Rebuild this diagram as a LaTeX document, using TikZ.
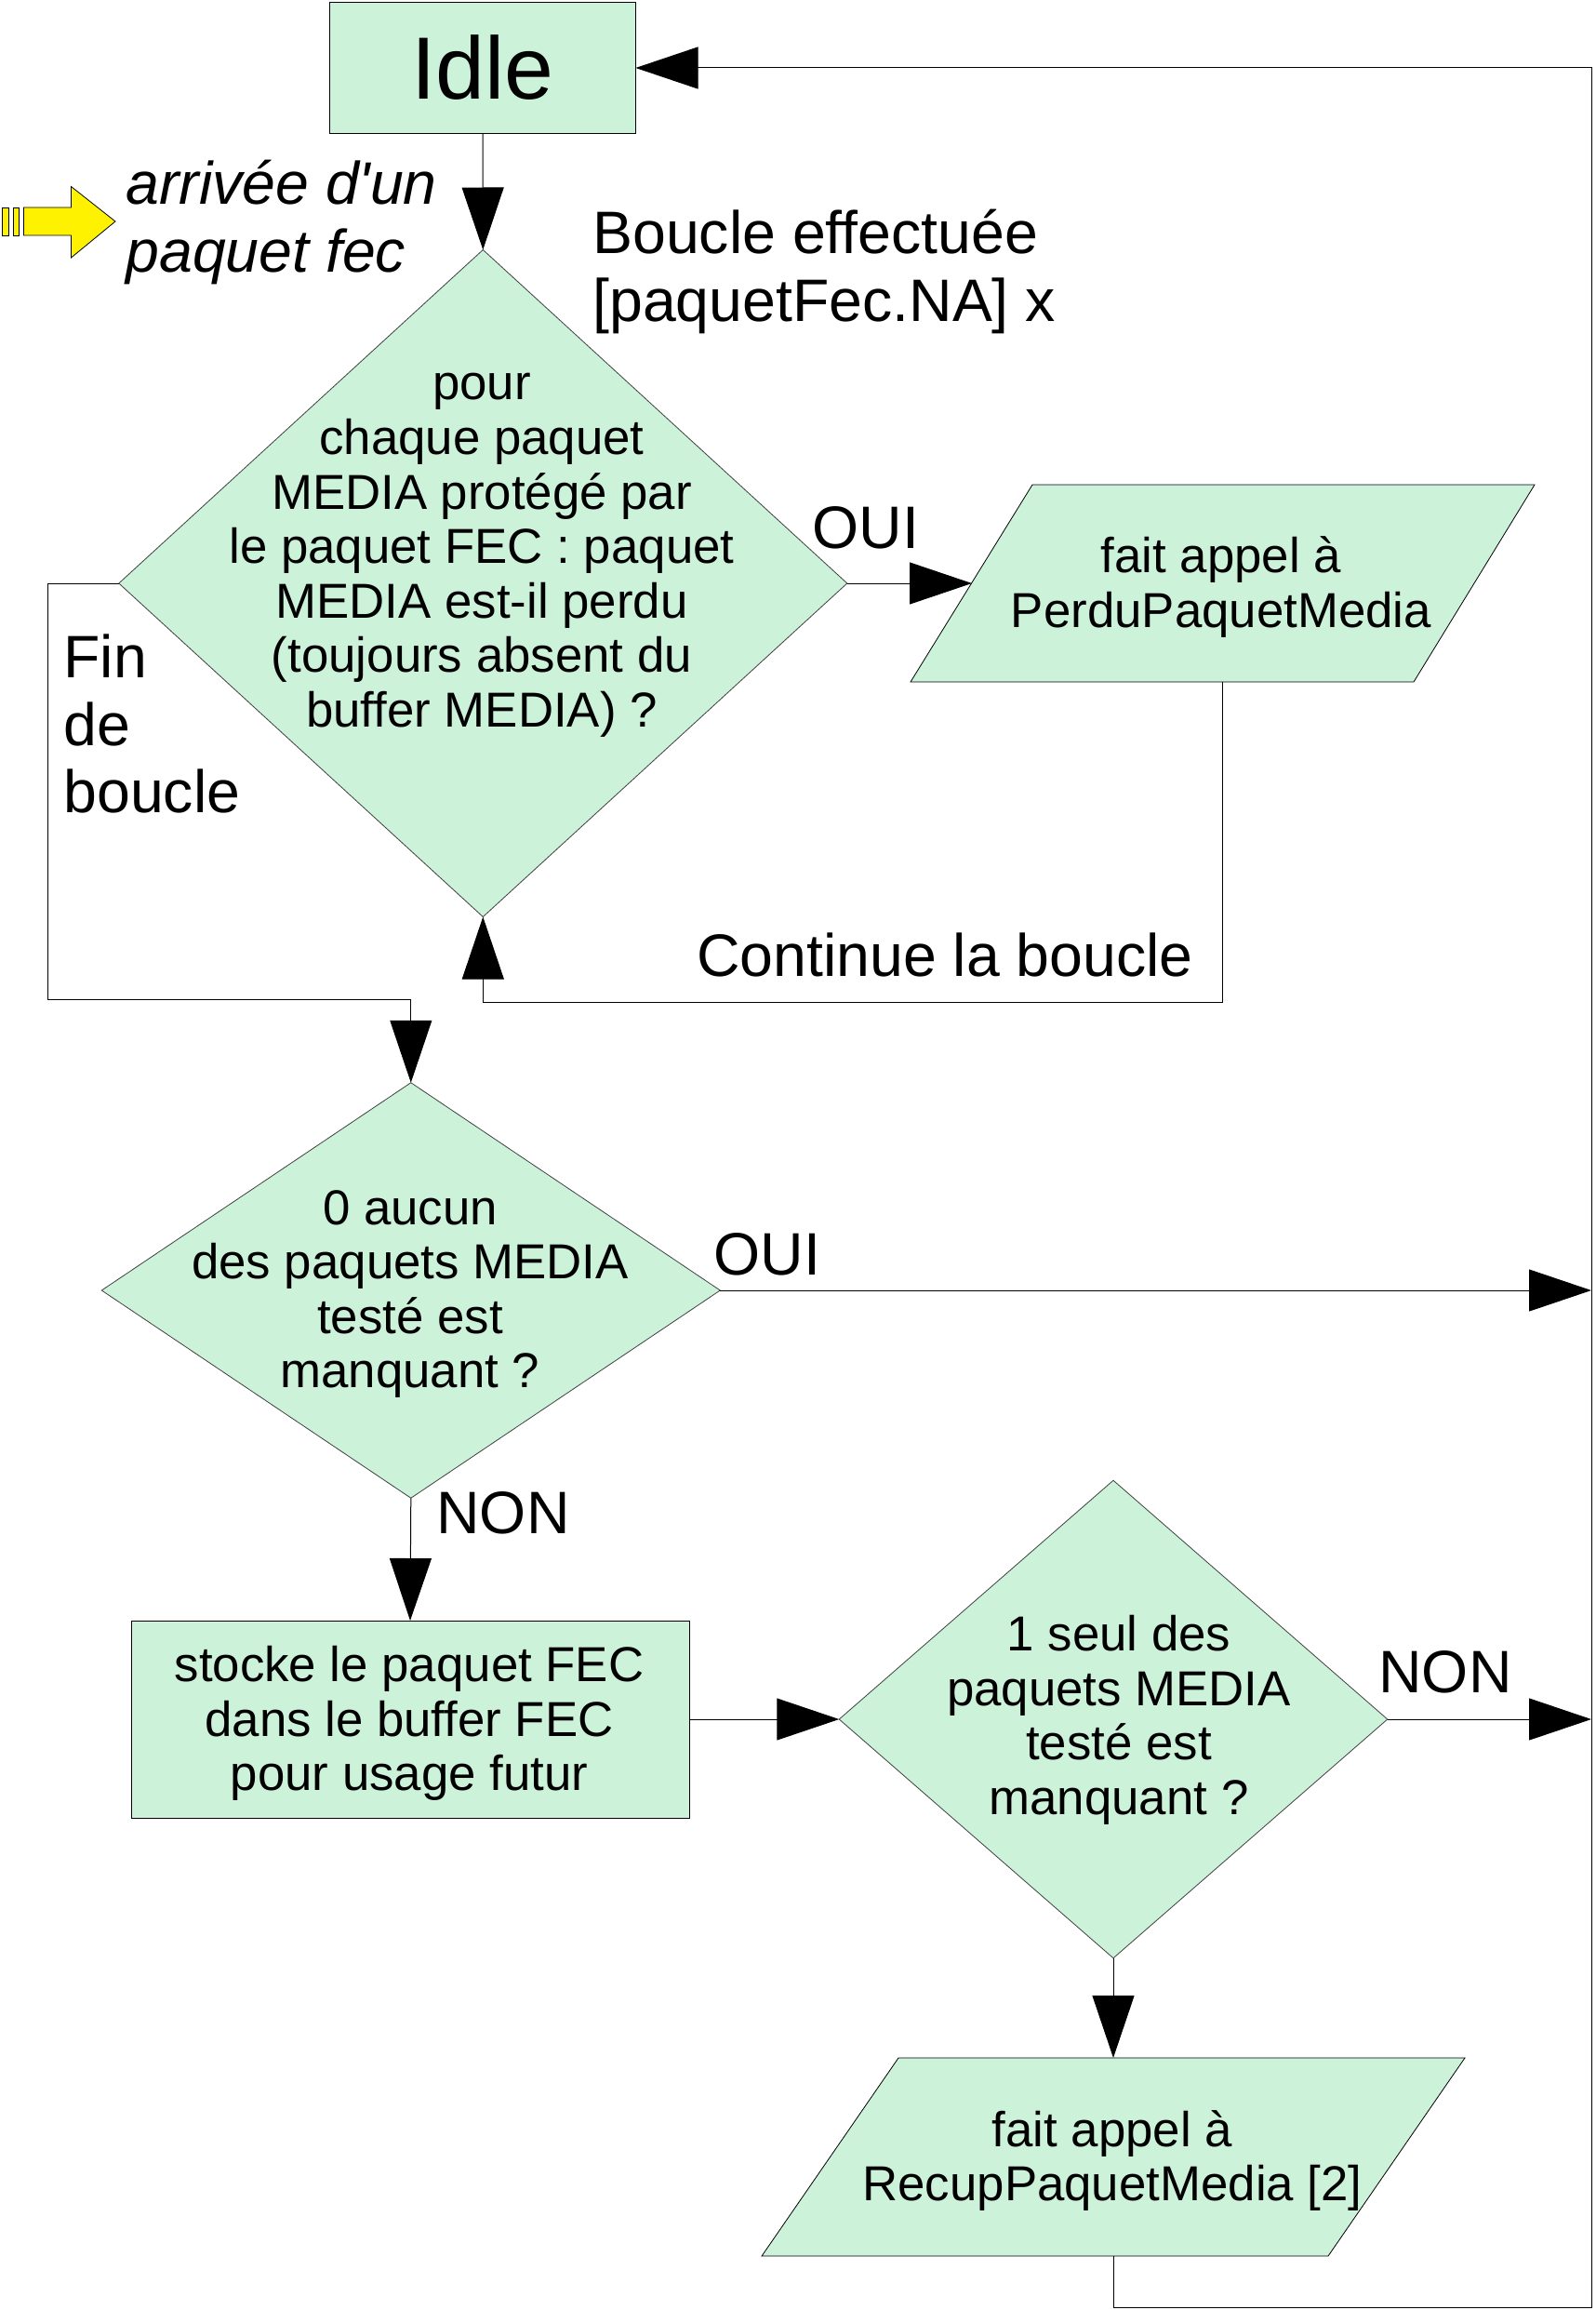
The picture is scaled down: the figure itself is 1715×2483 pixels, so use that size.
\documentclass[tikz,border=0pt]{standalone}
\usepackage{fontspec}
\setmainfont{Liberation Sans}
\newfontfamily\plainsans{Liberation Sans}
\usetikzlibrary{shapes.geometric,arrows.meta}
\definecolor{flow}{HTML}{CCF2DA}
\newcommand{\bodyfs}{\fontsize{26.4}{29.3}\selectfont}
\newcommand{\bigfs}{\fontsize{32.2}{36.4}\selectfont}
\tikzset{
  x=0.5pt,y=-0.5pt,
  boxnode/.style={rectangle,draw=black,line width=0.5pt,fill=flow,inner sep=0pt,outer sep=0pt},
  dianode/.style={diamond,draw=black!75,line width=0.4pt,fill=flow,inner sep=0pt,outer sep=0pt},
  paranode/.style={rectangle,inner sep=0pt,outer sep=0pt},
  parashape/.style={draw=black,line width=0.4pt,fill=flow},
  flowtext/.style={inner sep=0pt,align=center,font=\bodyfs},
  biglabel/.style={inner sep=0pt,align=left,anchor=west,font=\bigfs},
  conn/.style={draw=black,line width=0.5pt},
  arr/.style={conn,-{Triangle[length=33.5pt,width=22.5pt]}},
  yellowshape/.style={draw=black,line width=0.4pt,fill=yellow}
}
\begin{document}
\begin{tikzpicture}
\useasboundingbox (0,0) rectangle (1715,2483);
% yellow arrow
\draw[yellowshape] (2.5,223) rectangle (9,253);
\draw[yellowshape] (14,223) rectangle (20,253);
\draw[yellowshape] (25.5,223) -- (76.5,223) -- (76.5,200.5) -- (124,238) -- (76.5,277) -- (76.5,253) -- (25.5,253) -- cycle;
% nodes
\node[boxnode,minimum width=164.5pt,minimum height=70.25pt] (idle) at (519,73) {\fontsize{47.5}{50}\selectfont Idle};
\node[dianode,minimum width=391.5pt,minimum height=358.5pt] (d1) at (519.3,627) {};
\node[flowtext] (d1t) at (518,597) {pour\\chaque paquet\\MEDIA protégé par\\le paquet FEC : paquet\\MEDIA est-il perdu\\(toujours absent du\\buffer MEDIA) ?};
\node[paranode,minimum width=335.5pt,minimum height=106pt] (p1) at (1314.5,627) {};
\fill[parashape] (1110,521) -- (1650,521) -- (1520,733) -- (979,733) -- cycle;
\node[flowtext] (p1t) at (1313,631) {fait appel à\\PerduPaquetMedia};
\coordinate (p1w) at (1045,627);
\node[dianode,minimum width=332.5pt,minimum height=223.25pt] (d2) at (441.8,1387) {};
\node[flowtext] (d2t) at (441,1391) {0 aucun\\des paquets MEDIA\\testé est\\manquant ?};
\node[boxnode,line width=0.4pt,minimum width=300pt,minimum height=106pt] (b1) at (441,1848) {};
\node[flowtext] (b1t) at (440,1852.5) {stocke le paquet FEC\\dans le buffer FEC\\pour usage futur};
\node[dianode,minimum width=294.75pt,minimum height=256.75pt] (d3) at (1197,1848) {};
\node[flowtext] (d3t) at (1203,1849) {1 seul des\\paquets MEDIA\\testé est\\manquant ?};
\node[paranode,minimum width=378pt,minimum height=106.5pt] (p2) at (1197,2318.5) {};
\fill[parashape] (966,2212) -- (1575,2212) -- (1428,2425) -- (819,2425) -- cycle;
\node[flowtext] (p2t) at (1196,2322.5) {fait appel à\\RecupPaquetMedia [2]};
% free-end coordinates
\coordinate (r1) at (1711,1387);
\coordinate (r2) at (1711,1848);
\coordinate (br) at (1711,2480);
\coordinate (tr) at (1711,73);
\coordinate (l1) at (51,1074);
\coordinate (bj) at (1314.5,1077);
% connectors
\draw[arr] (idle.south) -- (d1.north);
\draw[arr] (d1.east) -- (p1w);
\draw[arr] (p1.south) -- (bj) -- (d1.south |- bj) -- (d1.south);
\draw[arr] (d1.west) -- (l1 |- d1.west) -- (l1) -- (d2.north |- l1) -- (d2.north);
\draw[arr] (d2.east) -- (r1);
\draw[arr] (d2.south) -- (b1.north);
\draw[arr] (b1.east) -- (d3.west);
\draw[arr] (d3.east) -- (r2);
\draw[arr] (d3.south) -- (p2.north);
\draw[arr] (p2.south) -- (p2.south |- br) -- (br) -- (tr) -- (idle.east);
% labels
\node[biglabel,font=\plainsans\itshape\bigfs] (l-arr) at (135,239) {arrivée d'un\\paquet fec};
\node[biglabel] (l-bou) at (637,292) {Boucle effectuée\\{[}paquetFec.NA] x};
\node[biglabel] (l-oui1) at (873,567) {OUI};
\node[biglabel] (l-fin) at (68,778) {Fin\\de\\boucle};
\node[biglabel] (l-con) at (749,1026) {Continue la boucle};
\node[biglabel] (l-oui2) at (767,1348) {OUI};
\node[biglabel] (l-non1) at (469,1626) {NON};
\node[biglabel] (l-non2) at (1482,1797) {NON};
\end{tikzpicture}
\end{document}
